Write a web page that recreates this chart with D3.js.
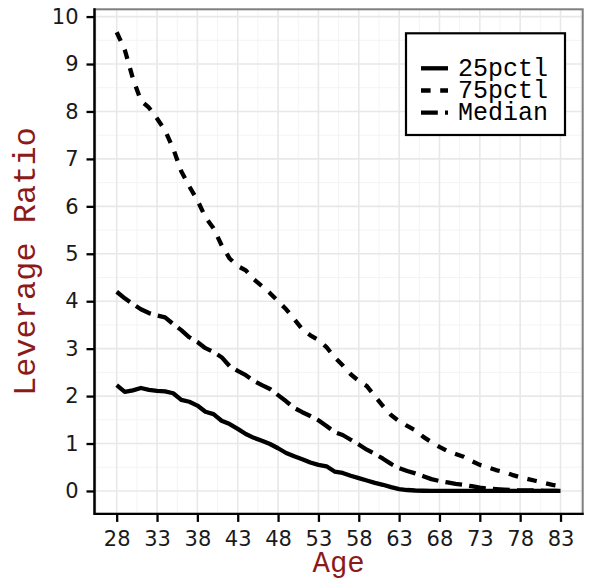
<!DOCTYPE html>
<html lang="en">
<head>
  <meta charset="UTF-8">
  <style>
    body { margin: 0; background: #fff; }
    .tick text { font-family: "DejaVu Sans", sans-serif; font-size: 21px; fill: #1a1a1a; }
    .title { font-family: "Courier New", Courier, "Nimbus Mono PS", "Nimbus Mono L", FreeMono, "Liberation Mono", monospace; fill: #8b1a1a; }
    .legend text { font-family: "Courier New", Courier, "Nimbus Mono PS", "Nimbus Mono L", FreeMono, "Liberation Mono", monospace; font-size: 25px; fill: #000; }
  </style>
</head>
<body>
  <svg class="chart"></svg>
  <script src="https://cdnjs.cloudflare.com/ajax/libs/d3/7.8.5/d3.min.js"></script>
  <script>
    const ages = [28, 29, 30, 31, 32, 33, 34, 35, 36, 37, 38, 39, 40, 41, 42, 43, 44, 45, 46, 47,
      48, 49, 50, 51, 52, 53, 54, 55, 56, 57, 58, 59, 60, 61, 62, 63, 64, 65, 66, 67,
      68, 69, 70, 71, 72, 73, 74, 75, 76, 77, 78, 79, 80, 81, 82, 83]
    const p25 = [2.23, 2.09, 2.12, 2.17, 2.13, 2.11, 2.10, 2.06, 1.92, 1.88, 1.80, 1.67, 1.62, 1.48,
      1.41, 1.31, 1.20, 1.12, 1.06, 0.99, 0.90, 0.80, 0.73, 0.67, 0.60, 0.55, 0.52, 0.41, 0.38,
      0.32, 0.27, 0.22, 0.17, 0.13, 0.08, 0.04, 0.02, 0.01, 0.005, 0, 0, 0, 0, 0, 0, 0, 0, 0,
      0, 0, 0, 0, 0, 0, 0, 0]
    const p75 = [9.67, 9.30, 8.70, 8.23, 8.08, 7.85, 7.60, 7.22, 6.74, 6.42, 6.13, 5.77, 5.54, 5.18,
      4.90, 4.74, 4.65, 4.46, 4.32, 4.17, 4.00, 3.83, 3.62, 3.41, 3.28, 3.18, 3.03, 2.82, 2.65,
      2.46, 2.32, 2.21, 2.00, 1.79, 1.60, 1.47, 1.37, 1.28, 1.14, 1.03, 0.93, 0.84, 0.78, 0.72,
      0.63, 0.55, 0.50, 0.44, 0.40, 0.34, 0.29, 0.25, 0.21, 0.17, 0.13, 0.10]
    const median = [4.20, 4.06, 3.94, 3.83, 3.75, 3.70, 3.66, 3.52, 3.39, 3.24, 3.14, 3.01, 2.93, 2.82,
      2.63, 2.53, 2.44, 2.32, 2.23, 2.15, 2.02, 1.89, 1.75, 1.66, 1.58, 1.49, 1.37, 1.24, 1.18,
      1.08, 0.98, 0.87, 0.78, 0.68, 0.57, 0.48, 0.42, 0.37, 0.31, 0.25, 0.21, 0.18, 0.15, 0.13,
      0.10, 0.07, 0.05, 0.04, 0.03, 0.02, 0.01, 0.01, 0.01, 0, 0, 0]
    const xTicks = [28, 33, 38, 43, 48, 53, 58, 63, 68, 73, 78, 83]
    const yTicks = [0, 1, 2, 3, 4, 5, 6, 7, 8, 9, 10]
    const seriesNames = ['25pctl', '75pctl', 'Median']

    const series = [
      { name: '25pctl', values: p25, dash: null },
      { name: '75pctl', values: p75, dash: '9.6,9.6' },
      { name: 'Median', values: median, dash: '16.8,7.2' }
    ]

    const chart = { width: 591, height: 585 }
    const panel = { left: 94.5, right: 582.7, top: 9.3, bottom: 513.9 }

    // ggplot style 5% expansion
    const xExt = d3.extent(ages)
    const xPad = (xExt[1] - xExt[0]) * 0.05
    const allY = p25.concat(p75, median)
    const yExt = d3.extent(allY)
    const yPad = (yExt[1] - yExt[0]) * 0.05

    const x = d3.scaleLinear()
      .domain([xExt[0] - xPad, xExt[1] + xPad])
      .range([panel.left, panel.right])
    const y = d3.scaleLinear()
      .domain([yExt[0] - yPad, yExt[1] + yPad])
      .range([panel.bottom, panel.top])

    const svg = d3.select('.chart')
      .attr('width', chart.width)
      .attr('height', chart.height)

    // grid
    const xMinor = xTicks.map(d => d - 2.5).concat([xTicks[xTicks.length - 1] + 2.5])
      .filter(d => d > x.domain()[0] && d < x.domain()[1])
    const yMinor = yTicks.map(d => d + 0.5).filter(d => d < y.domain()[1])

    const grid = svg.append('g')
    grid.selectAll('.xminor').data(xMinor).enter().append('line')
      .attr('x1', d => x(d)).attr('x2', d => x(d))
      .attr('y1', panel.top).attr('y2', panel.bottom)
      .attr('stroke', '#f4f4f4').attr('stroke-width', 1)
    grid.selectAll('.yminor').data(yMinor).enter().append('line')
      .attr('y1', d => y(d)).attr('y2', d => y(d))
      .attr('x1', panel.left).attr('x2', panel.right)
      .attr('stroke', '#f4f4f4').attr('stroke-width', 1)
    grid.selectAll('.xmajor').data(xTicks).enter().append('line')
      .attr('x1', d => x(d)).attr('x2', d => x(d))
      .attr('y1', panel.top).attr('y2', panel.bottom)
      .attr('stroke', '#e8e8e8').attr('stroke-width', 1.6)
    grid.selectAll('.ymajor').data(yTicks).enter().append('line')
      .attr('y1', d => y(d)).attr('y2', d => y(d))
      .attr('x1', panel.left).attr('x2', panel.right)
      .attr('stroke', '#e8e8e8').attr('stroke-width', 1.6)

    // panel border (grey), then axis lines (black)
    svg.append('rect')
      .attr('x', panel.left).attr('y', panel.top)
      .attr('width', panel.right - panel.left).attr('height', panel.bottom - panel.top)
      .attr('fill', 'none').attr('stroke', '#7f7f7f').attr('stroke-width', 2)

    // lines
    const line = d3.line()
      .x((d, i) => x(ages[i]))
      .y(d => y(d))

    svg.append('g').selectAll('path')
      .data(series)
      .enter().append('path')
        .attr('d', d => line(d.values))
        .attr('fill', 'none')
        .attr('stroke', '#000')
        .attr('stroke-width', 4.3)
        .attr('stroke-linejoin', 'round')
        .attr('stroke-dasharray', d => d.dash)

    // axes
    const xAxis = svg.append('g')
      .attr('transform', `translate(0,${panel.bottom})`)
      .call(d3.axisBottom(x).tickValues(xTicks).tickSize(8).tickPadding(6).tickSizeOuter(0))
    const yAxis = svg.append('g')
      .attr('transform', `translate(${panel.left},0)`)
      .call(d3.axisLeft(y).tickValues(yTicks).tickSize(8).tickPadding(8).tickSizeOuter(0))

    xAxis.select('.domain').remove()
    yAxis.select('.domain').remove()
    svg.selectAll('.tick line').attr('stroke', '#000').attr('stroke-width', 2.3)
    xAxis.selectAll('.tick text').attr('dy', '0.85em')

    svg.append('line')
      .attr('x1', panel.left).attr('x2', panel.left)
      .attr('y1', panel.top - 1).attr('y2', panel.bottom + 1.2)
      .attr('stroke', '#000').attr('stroke-width', 2.4)
    svg.append('line')
      .attr('x1', panel.left).attr('x2', panel.right + 1)
      .attr('y1', panel.bottom).attr('y2', panel.bottom)
      .attr('stroke', '#000').attr('stroke-width', 2.4)

    // titles
    svg.append('text')
      .attr('class', 'title')
      .attr('x', (panel.left + panel.right) / 2)
      .attr('y', 572.3)
      .attr('text-anchor', 'middle')
      .attr('font-size', 29)
      .text('Age')
    svg.append('text')
      .attr('class', 'title')
      .attr('transform', `translate(35,${(panel.top + panel.bottom) / 2}) rotate(-90)`)
      .attr('text-anchor', 'middle')
      .attr('font-size', 32)
      .text('Leverage Ratio')

    // legend
    const legend = svg.append('g').attr('class', 'legend')
    legend.append('rect')
      .attr('x', 406).attr('y', 33.3)
      .attr('width', 159).attr('height', 101.7)
      .attr('fill', '#fff').attr('stroke', '#000').attr('stroke-width', 2.2)
    const rowY = d3.scalePoint().domain(seriesNames).range([68.3, 112.7])
    const item = legend.selectAll('.item')
      .data(series)
      .enter().append('g')
        .attr('transform', d => `translate(0,${rowY(d.name)})`)
    item.append('line')
      .attr('x1', 421).attr('x2', 448)
      .attr('stroke', '#000').attr('stroke-width', 4.3)
      .attr('stroke-dasharray', d => d.dash)
    item.append('text')
      .attr('x', 458).attr('y', 7.3)
      .text(d => d.name)
  </script>
</body>
</html>
